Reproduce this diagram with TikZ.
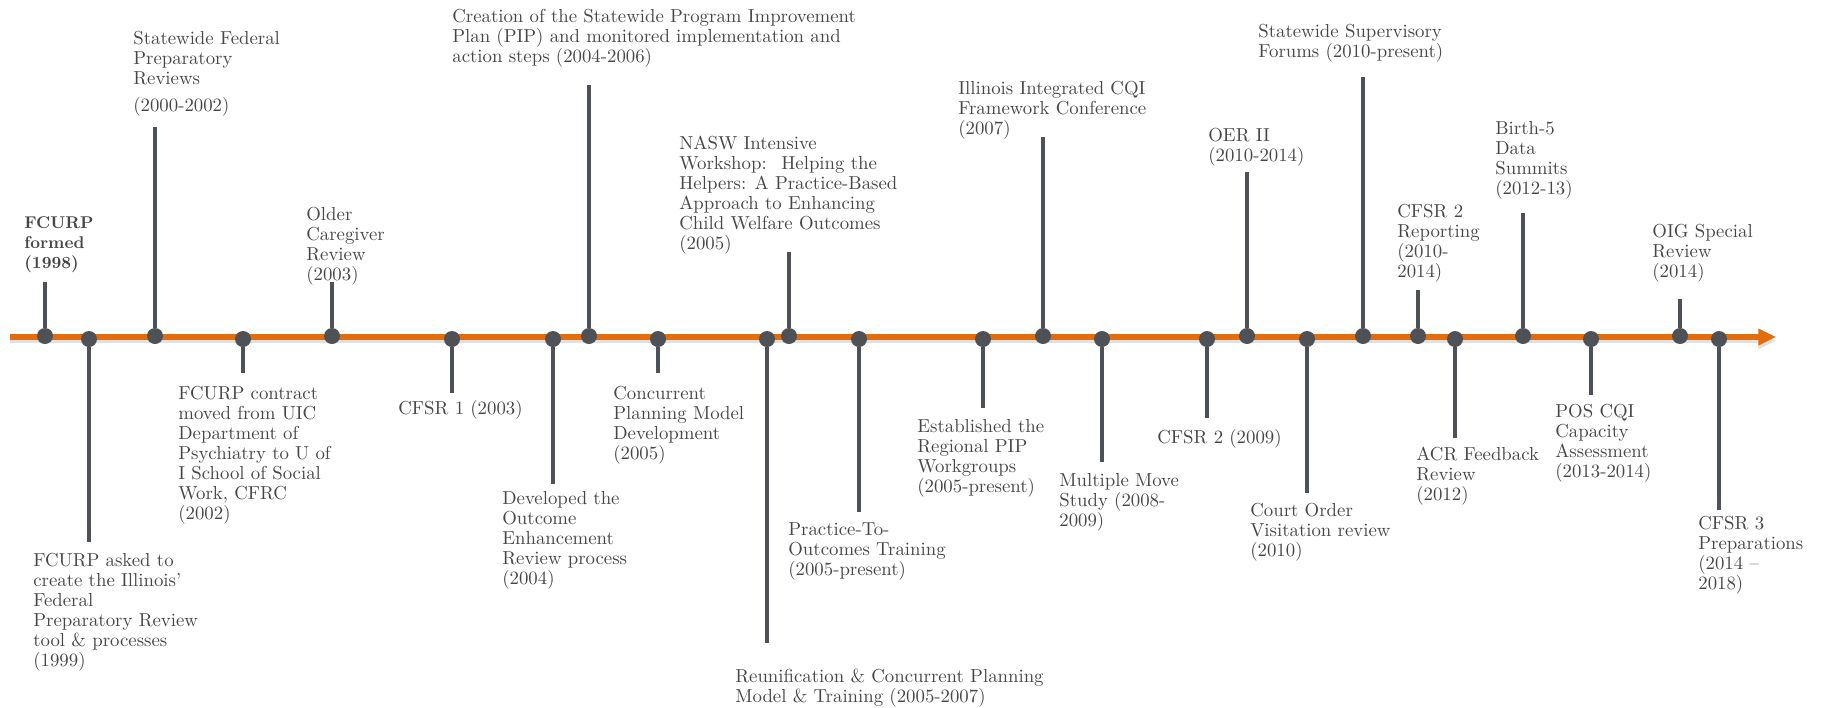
\documentclass[tikz,border=0pt]{standalone}
\usetikzlibrary{arrows.meta}
\definecolor{axisorange}{RGB}{228,108,10}
\definecolor{dotgray}{RGB}{78,81,86}
\definecolor{txtgray}{RGB}{70,70,70}
\tikzset{
    axis/.style = {draw=axisorange, line width=3.4pt, -{Triangle[length=10pt,width=9pt]},
        preaction={draw=black!12, line width=2pt, transform canvas={yshift=-2.2pt}}},
    dot/.style  = {circle, fill=dotgray, inner sep=0pt, minimum size=0.32cm},
    stem/.style = {draw=dotgray, line width=2pt},
    lbl/.style  = {anchor=north west, inner sep=0pt, align=left, text=txtgray,
        font=\fontsize{10.7}{11.4}\selectfont},
}

\begin{document}
\begin{tikzpicture}[x=0.02cm, y=-0.02cm]
    \useasboundingbox (0,0) rectangle (1824,707);

    \coordinate (start) at (10,337);
    \coordinate (end) at (1776,337);
    \draw[axis] (start) -- (end);

    \node[dot] (D1) at (45,336) {};
    \node[dot] (D2) at (89,339) {};
    \node[dot] (D3) at (155,336) {};
    \node[dot] (D4) at (243,339) {};
    \node[dot] (D5) at (332,336) {};
    \node[dot] (D6) at (452,339) {};
    \node[dot] (D7) at (553,339) {};
    \node[dot] (D8) at (589,336) {};
    \node[dot] (D9) at (658,339) {};
    \node[dot] (D10) at (767,339) {};
    \node[dot] (D11) at (789,336) {};
    \node[dot] (D12) at (859,339) {};
    \node[dot] (D13) at (983,339) {};
    \node[dot] (D14) at (1043,336) {};
    \node[dot] (D15) at (1102,339) {};
    \node[dot] (D16) at (1207,339) {};
    \node[dot] (D17) at (1247,336) {};
    \node[dot] (D18) at (1307,339) {};
    \node[dot] (D19) at (1363,336) {};
    \node[dot] (D20) at (1418,336) {};
    \node[dot] (D21) at (1455,339) {};
    \node[dot] (D22) at (1523,336) {};
    \node[dot] (D23) at (1591,339) {};
    \node[dot] (D24) at (1680,336) {};
    \node[dot] (D25) at (1719,339) {};

    \coordinate (S1) at (45,282);
    \coordinate (S2) at (89,542);
    \coordinate (S3) at (155,127);
    \coordinate (S4) at (243,373);
    \coordinate (S5) at (332,282);
    \coordinate (S6) at (452,393);
    \coordinate (S7) at (553,484);
    \coordinate (S8) at (589,85);
    \coordinate (S9) at (658,373);
    \coordinate (S10) at (767,643);
    \coordinate (S11) at (789,252);
    \coordinate (S12) at (859,512);
    \coordinate (S13) at (983,408);
    \coordinate (S14) at (1043,137);
    \coordinate (S15) at (1102,462);
    \coordinate (S16) at (1207,418);
    \coordinate (S17) at (1247,172);
    \coordinate (S18) at (1307,493);
    \coordinate (S19) at (1363,77);
    \coordinate (S20) at (1418,290);
    \coordinate (S21) at (1455,438);
    \coordinate (S22) at (1523,213);
    \coordinate (S23) at (1591,395);
    \coordinate (S24) at (1680,299);
    \coordinate (S25) at (1719,510);

    \draw[stem] (D1) -- (S1) (D2) -- (S2) (D3) -- (S3) (D4) -- (S4) (D5) -- (S5)
        (D6) -- (S6) (D7) -- (S7) (D8) -- (S8) (D9) -- (S9) (D10) -- (S10)
        (D11) -- (S11) (D12) -- (S12) (D13) -- (S13) (D14) -- (S14) (D15) -- (S15)
        (D16) -- (S16) (D17) -- (S17) (D18) -- (S18) (D19) -- (S19) (D20) -- (S20)
        (D21) -- (S21) (D22) -- (S22) (D23) -- (S23) (D24) -- (S24) (D25) -- (S25);

    \node[lbl, font=\fontsize{9.7}{11.4}\selectfont\bfseries] (L1) at (24,216) {FCURP\\formed\\(1998)};
    \node[lbl] (L2) at (33,553) {FCURP asked to\\create the Illinois’\\Federal\\Preparatory Review\\tool \& processes\\(1999)};
    \node[lbl] (L3) at (133,31) {Statewide Federal\\Preparatory\\Reviews\\[4pt](2000-2002)};
    \node[lbl] (L4) at (178,386) {FCURP contract\\moved from UIC\\Department of\\Psychiatry to U of\\I School of Social\\Work, CFRC\\(2002)};
    \node[lbl] (L5) at (306,207) {Older\\Caregiver\\Review\\(2003)};
    \node[lbl] (L6) at (398,400) {CFSR 1 (2003)};
    \node[lbl] (L7) at (502,491) {Developed the\\Outcome\\Enhancement\\Review process\\(2004)};
    \node[lbl] (L8) at (452,9) {Creation of the Statewide Program Improvement\\Plan (PIP) and monitored implementation and\\action steps (2004-2006)};
    \node[lbl] (L9) at (613,386) {Concurrent\\Planning Model\\Development\\(2005)};
    \node[lbl] (L10) at (735,669) {Reunification \& Concurrent Planning\\Model \& Training (2005-2007)};
    \node[lbl] (L11) at (679,136) {NASW Intensive\\Workshop:~ Helping the\\Helpers: A Practice-Based\\Approach to Enhancing\\Child Welfare Outcomes\\(2005)};
    \node[lbl] (L12) at (788,522) {Practice-To-\\Outcomes Training\\(2005-present)};
    \node[lbl] (L13) at (917,419) {Established the\\Regional PIP\\Workgroups\\(2005-present)};
    \node[lbl] (L14) at (958,81) {Illinois Integrated CQI\\Framework Conference\\(2007)};
    \node[lbl] (L15) at (1059,473) {Multiple Move\\Study (2008-\\2009)};
    \node[lbl] (L16) at (1157,429) {CFSR 2 (2009)};
    \node[lbl] (L17) at (1208,128) {OER II\\(2010-2014)};
    \node[lbl] (L18) at (1250,503) {Court Order\\Visitation review\\(2010)};
    \node[lbl] (L19) at (1258,24) {Statewide Supervisory\\Forums (2010-present)};
    \node[lbl] (L20) at (1397,204) {CFSR 2\\Reporting\\(2010-\\2014)};
    \node[lbl] (L21) at (1416,447) {ACR Feedback\\Review\\(2012)};
    \node[lbl] (L22) at (1495,121) {Birth-5\\Data\\Summits\\(2012-13)};
    \node[lbl] (L23) at (1555,404) {POS CQI\\Capacity\\Assessment\\(2013-2014)};
    \node[lbl] (L24) at (1652,224) {OIG Special\\Review\\(2014)};
    \node[lbl] (L25) at (1698,516) {CFSR 3\\Preparations\\(2014 --\\2018)};
\end{tikzpicture}
\end{document}
